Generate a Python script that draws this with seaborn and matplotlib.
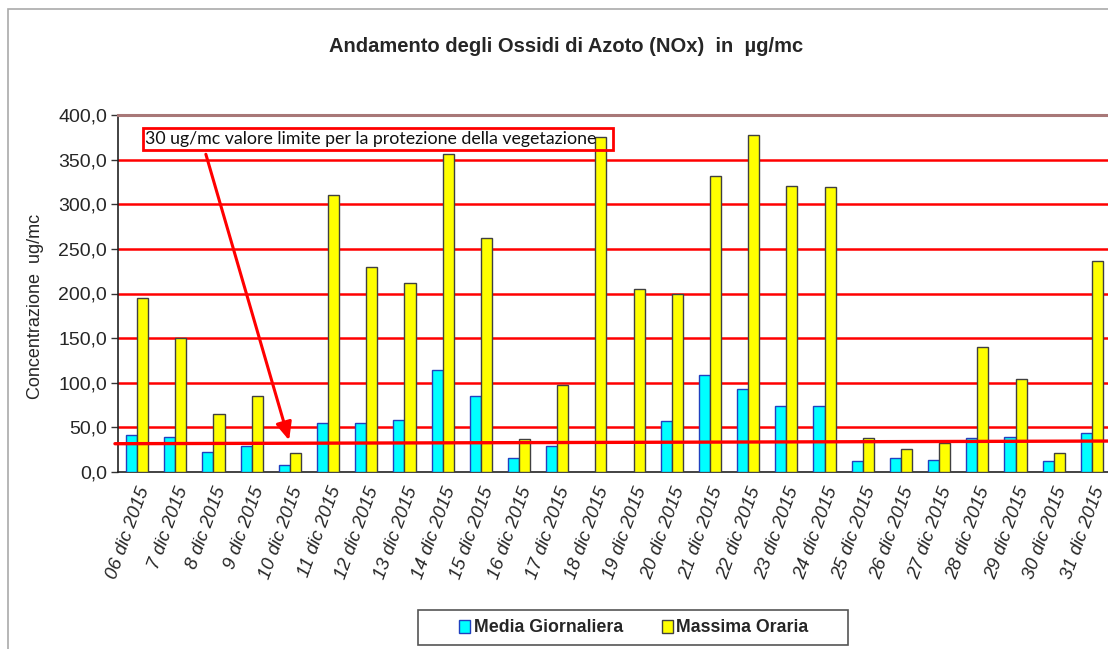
import numpy as np
import pandas as pd
import matplotlib
matplotlib.use("Agg")
import matplotlib.pyplot as plt
import seaborn as sns
from matplotlib.patches import Patch, Rectangle

sns.set_theme(style="white")
plt.rcParams['font.family'] = ['Liberation Sans', 'DejaVu Sans']

dates = ["06 dic 2015", "7 dic 2015", "8 dic 2015", "9 dic 2015", "10 dic 2015",
         "11 dic 2015", "12 dic 2015", "13 dic 2015", "14 dic 2015", "15 dic 2015",
         "16 dic 2015", "17 dic 2015", "18 dic 2015", "19 dic 2015", "20 dic 2015",
         "21 dic 2015", "22 dic 2015", "23 dic 2015", "24 dic 2015", "25 dic 2015",
         "26 dic 2015", "27 dic 2015", "28 dic 2015", "29 dic 2015", "30 dic 2015",
         "31 dic 2015"]
media = [41.5, 38.9, 22.0, 28.8, 7.8, 54.5, 54.5, 57.9, 113.9, 84.8,
         15.7, 28.8, np.nan, np.nan, 56.8, 108.3, 92.6, 74.3, 74.3, 12.3,
         15.3, 13.1, 37.7, 39.2, 12.3, 44.0]
massima = [194.6, 149.8, 64.6, 85.5, 20.9, 310.0, 230.0, 211.4, 356.7, 261.8,
           37.3, 97.5, 375.4, 204.7, 199.0, 331.3, 377.6, 320.8, 319.0, 37.7,
           25.4, 32.1, 140.0, 103.8, 20.9, 236.0]
series_names = ["Media Giornaliera", "Massima Oraria"]
yticks = [0, 50, 100, 150, 200, 250, 300, 350, 400]
limit_start, limit_end = 31.7, 34.7
annotation_text = "30 ug/mc valore limite per la protezione della vegetazione"

df = pd.DataFrame({
    "date": dates * 2,
    "value": media + massima,
    "series": [series_names[0]] * len(dates) + [series_names[1]] * len(dates),
})

W, H = 1108, 649
fig = plt.figure(figsize=(W / 100, H / 100), dpi=100)
ax = fig.add_axes([118 / W, 1 - 472 / H, 993 / W, 357 / H])

colors = ["#00FFFF", "#FFFF00"]
edges = ["#2040C0", "#404040"]
sns.barplot(data=df, x="date", y="value", hue="series", hue_order=series_names,
            order=dates, palette=colors, width=0.58, ax=ax, legend=False,
            saturation=1, linewidth=1.0, edgecolor="#404040")
for cont, ec in zip(ax.containers, edges):
    for p in cont.patches:
        p.set_edgecolor(ec)
        p.set_zorder(3)

ax.set_xlim(-0.5, len(dates) - 0.5)
ax.set_ylim(0, 400)
ax.set_yticks(yticks)
ax.set_yticklabels([f"{v:.1f}".replace(".", ",") for v in yticks], fontsize=14)
for v in yticks[1:-1]:
    ax.axhline(v, color="#FF0000", lw=1.8, zorder=1)

ax.set_xticks(range(len(dates)))
ax.set_xticklabels(dates, rotation=70, ha="right", va="top", rotation_mode="anchor",
                   fontsize=13.5, fontstyle="italic")
ax.set_xticks(np.arange(-0.5, len(dates), 1), minor=True)
ax.tick_params(axis="x", which="major", length=0, pad=9)
ax.tick_params(axis="x", which="minor", length=5, width=1, color="#333333", direction="out")
ax.tick_params(axis="y", which="major", length=5, width=1, color="#333333", direction="out", left=True, pad=3)

ax.set_xlabel("")
ax.set_ylabel("Concentrazione  ug/mc", fontsize=13)
ax.yaxis.set_label_coords(-0.0745, 0.465)

for s in ["left", "bottom"]:
    ax.spines[s].set_color("#222222")
    ax.spines[s].set_linewidth(1.2)
ax.spines["right"].set_visible(False)
ax.spines["top"].set_color("#A87878")
ax.spines["top"].set_linewidth(2.2)

# limit line
ax.plot([-0.58, len(dates) - 0.4], [limit_start, limit_end], color="#FF0000", lw=2.4,
        zorder=4, clip_on=False)

# annotation box and arrow
ax.text(0.22, 373, annotation_text + "   ", fontsize=12.8, family=["Lato", "DejaVu Sans"],
        va="center", ha="left", color="#111111", zorder=6,
        bbox=dict(boxstyle="square,pad=0.15", fc="none", ec="#FF0000", lw=2))
ax.annotate("", xy=(4.0, 32.5), xytext=(1.78, 359),
            arrowprops=dict(arrowstyle="-|>,head_length=0.9,head_width=0.4",
                            color="#FF0000", lw=2.2), zorder=5)

# title
fig.text(566 / W, 1 - 47 / H, "Andamento degli Ossidi di Azoto (NOx)  in  µg/mc",
         ha="center", va="center", fontsize=14.5, fontweight="bold")

# legend
handles = [Patch(facecolor=c, edgecolor=e, lw=1) for c, e in zip(colors, edges)]
leg = fig.legend(handles, series_names, loc="center", bbox_to_anchor=(634 / W, 1 - 628 / H),
                 ncol=2, frameon=False,
                 prop={"weight": "bold", "size": 12.8}, handlelength=0.6, handleheight=0.7,
                 handletextpad=0.2, columnspacing=2.2, borderpad=0.3,
                 borderaxespad=0)
fig.patches.append(Rectangle((418 / W, 1 - 645 / H), 430 / W, 35 / H, transform=fig.transFigure,
                             fill=False, ec="#555555", lw=1.2, zorder=2))

# outer chart border
fig.patches.append(Rectangle((8 / W, -0.1), 1.2, 1 - 9 / H + 0.1, transform=fig.transFigure,
                             fill=False, ec="#AAAAAA", lw=1.2, zorder=0))

fig.savefig("out.png", dpi=100)
